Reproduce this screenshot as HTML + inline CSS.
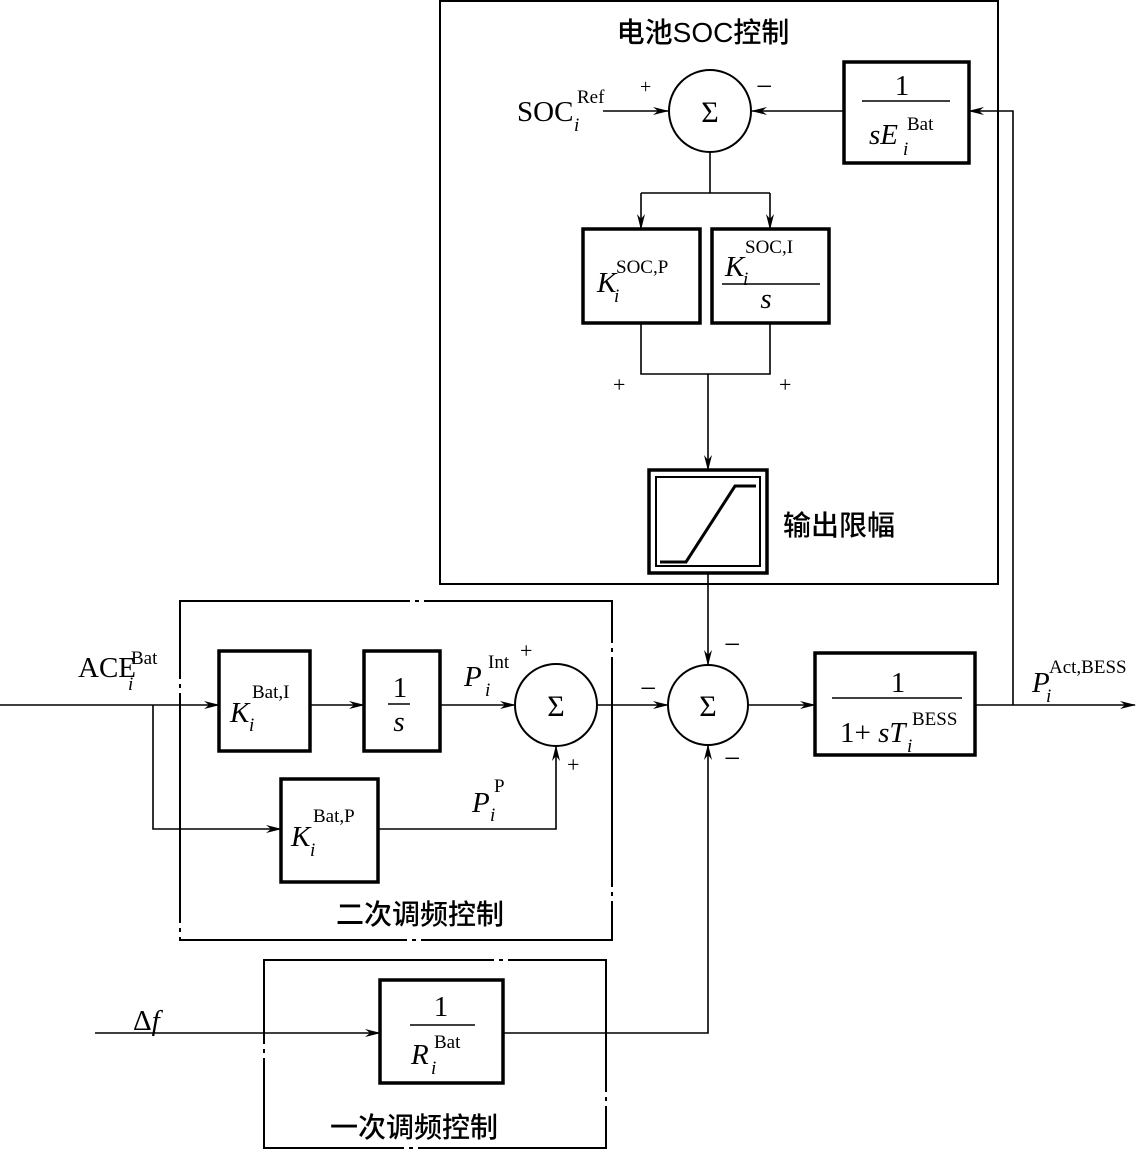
<!DOCTYPE html>
<html><head><meta charset="utf-8"><style>
html,body{margin:0;padding:0;background:#fff}
svg{display:block}
text{font-family:"Liberation Serif","Noto Serif CJK SC",serif;fill:#000}
.cn{font-family:"Liberation Sans","Noto Sans CJK SC",sans-serif;font-size:28px;font-weight:500}
.it{font-style:italic}
.sp{font-size:19px}
.sb{font-size:19px;font-style:italic}
.sg{font-size:30px}
</style></head><body>
<svg width="1145" height="1152" viewBox="0 0 1145 1152" xmlns="http://www.w3.org/2000/svg">
<defs><marker id="a" markerWidth="16" markerHeight="10" refX="15" refY="5" orient="auto" markerUnits="userSpaceOnUse"><path d="M0,1 L16,5 L0,9 L5,5 Z" fill="#000"/></marker></defs>
<g fill="none" stroke="#000" stroke-width="2">
<rect x="440" y="1" width="558" height="583"/>
<rect x="180" y="601" width="432" height="339" stroke-dasharray="230,5,4,5"/>
<rect x="264" y="960" width="342" height="188" stroke-dasharray="230,5,4,5"/>
<circle cx="710" cy="111" r="41"/>
<circle cx="556" cy="705" r="41"/>
<circle cx="708" cy="705" r="40"/>
</g>
<g fill="none" stroke="#000" stroke-width="3.5">
<rect x="844" y="62" width="125" height="101"/>
<rect x="583" y="229" width="117" height="94"/>
<rect x="712" y="229" width="117" height="94"/>
<rect x="649" y="470" width="118" height="103"/>
<rect x="219" y="651" width="91" height="100"/>
<rect x="364" y="651" width="76" height="100"/>
<rect x="281" y="779" width="97" height="103"/>
<rect x="815" y="653" width="160" height="102"/>
<rect x="380" y="980" width="123" height="103"/>
</g>
<g fill="none" stroke="#000" stroke-width="1.6">
<line x1="603" y1="111" x2="668" y2="111" marker-end="url(#a)"/>
<line x1="844" y1="111" x2="752" y2="111" marker-end="url(#a)"/>
<polyline points="1013,705 1013,111 969,111" marker-end="url(#a)"/>
<line x1="710" y1="152" x2="710" y2="193"/>
<line x1="641" y1="193" x2="770" y2="193"/>
<line x1="641" y1="193" x2="641" y2="229" marker-end="url(#a)"/>
<line x1="770" y1="193" x2="770" y2="229" marker-end="url(#a)"/>
<polyline points="641,323 641,374 770,374 770,323"/>
<line x1="708" y1="374" x2="708" y2="470" marker-end="url(#a)"/>
<line x1="708" y1="573" x2="708" y2="665" marker-end="url(#a)"/>
<line x1="0" y1="705" x2="219" y2="705" marker-end="url(#a)"/>
<line x1="310" y1="705" x2="364" y2="705" marker-end="url(#a)"/>
<line x1="440" y1="705" x2="515" y2="705" marker-end="url(#a)"/>
<polyline points="153,705 153,829 281,829" marker-end="url(#a)"/>
<polyline points="378,829 556,829 556,746" marker-end="url(#a)"/>
<line x1="597" y1="705" x2="668" y2="705" marker-end="url(#a)"/>
<line x1="748" y1="705" x2="815" y2="705" marker-end="url(#a)"/>
<line x1="975" y1="705" x2="1135" y2="705" marker-end="url(#a)"/>
<line x1="95" y1="1033" x2="380" y2="1033" marker-end="url(#a)"/>
<polyline points="503,1033 708,1033 708,745" marker-end="url(#a)"/>
<line x1="862" y1="101" x2="950" y2="101"/>
<line x1="722" y1="284" x2="820" y2="284"/>
<line x1="388" y1="704" x2="410" y2="704"/>
<line x1="832" y1="698" x2="962" y2="698"/>
<line x1="410" y1="1025" x2="475" y2="1025"/>
</g>
<rect x="656" y="477" width="104" height="89" fill="none" stroke="#000" stroke-width="2"/>
<polyline points="660,562 686,562 735,486 756,486" fill="none" stroke="#000" stroke-width="3"/>
<text x="703" y="42" class="cn" text-anchor="middle">电池SOC控制</text>
<text x="783" y="535" class="cn">输出限幅</text>
<text x="336" y="924" class="cn">二次调频控制</text>
<text x="330" y="1137" class="cn">一次调频控制</text>
<g font-size="29">
<text x="517" y="121">SOC</text><text x="577" y="103" class="sp">Ref</text><text x="574" y="131" class="sb">i</text>
<text x="640" y="93" font-size="20">+</text>
<text x="756" y="96">−</text>
<text x="710" y="122" class="sg" text-anchor="middle">Σ</text>
<text x="902" y="95" text-anchor="middle">1</text>
<text x="869" y="144" class="it">sE</text><text x="907" y="130" class="sp">Bat</text><text x="903" y="155" class="sb">i</text>
<text x="597" y="292" class="it">K</text><text x="616" y="273" class="sp">SOC,P</text><text x="614" y="302" class="sb">i</text>
<text x="725" y="276" class="it">K</text><text x="745" y="253" class="sp">SOC,I</text><text x="743" y="285" class="sb">i</text>
<text x="766" y="308" class="it" text-anchor="middle">s</text>
<text x="613" y="392" font-size="22">+</text>
<text x="779" y="392" font-size="22">+</text>
<text x="78" y="677">ACE</text><text x="131" y="664" class="sp">Bat</text><text x="128" y="690" class="sb">i</text>
<text x="230" y="722" class="it">K</text><text x="252" y="698" class="sp">Bat,I</text><text x="249" y="731" class="sb">i</text>
<text x="400" y="697" text-anchor="middle">1</text>
<text x="399" y="731" class="it" text-anchor="middle">s</text>
<text x="464" y="686" class="it">P</text><text x="488" y="668" class="sp">Int</text><text x="485" y="696" class="sb">i</text>
<text x="520" y="658" font-size="22">+</text>
<text x="556" y="716" class="sg" text-anchor="middle">Σ</text>
<text x="567" y="772" font-size="22">+</text>
<text x="472" y="812" class="it">P</text><text x="494" y="792" class="sp">P</text><text x="490" y="821" class="sb">i</text>
<text x="291" y="846" class="it">K</text><text x="313" y="822" class="sp">Bat,P</text><text x="310" y="856" class="sb">i</text>
<text x="640" y="698">−</text>
<text x="708" y="716" class="sg" text-anchor="middle">Σ</text>
<text x="724" y="654">−</text>
<text x="724" y="768">−</text>
<text x="898" y="692" text-anchor="middle">1</text>
<text x="840" y="742">1+ <tspan class="it">sT</tspan></text><text x="912" y="725" class="sp">BESS</text><text x="907" y="752" class="sb">i</text>
<text x="1032" y="692" class="it">P</text><text x="1049" y="673" class="sp">Act,BESS</text><text x="1046" y="702" class="sb">i</text>
<text x="133" y="1030">Δ<tspan class="it">f</tspan></text>
<text x="441" y="1016" text-anchor="middle">1</text>
<text x="411" y="1064" class="it">R</text><text x="434" y="1048" class="sp">Bat</text><text x="431" y="1074" class="sb">i</text>
</g>
</svg>
</body></html>
